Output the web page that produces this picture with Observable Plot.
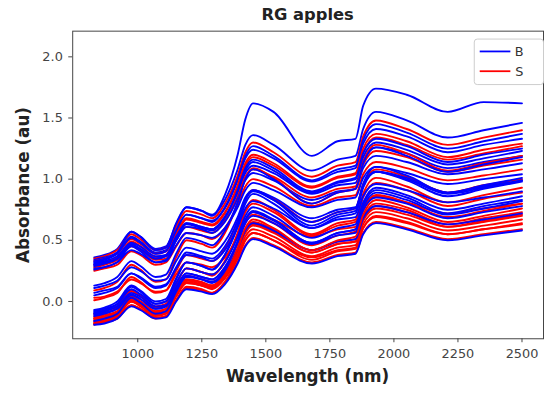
<!DOCTYPE html>
<html><head><meta charset="utf-8">
<script src="https://cdn.jsdelivr.net/npm/d3@7"></script>
<script src="https://cdn.jsdelivr.net/npm/@observablehq/plot@0.6"></script>
<style>
html,body{margin:0;padding:0;background:#fff;overflow:hidden;width:544px;height:395px;}
#chart{position:relative;width:544px;height:395px;overflow:hidden;}
</style></head><body><div id="chart"></div>
<script>
const title = "RG apples";
const xLabel = "Wavelength (nm)";
const yLabel = "Absorbance (au)";
const wavelengths = [830, 870, 920, 975, 1010, 1070, 1110, 1150, 1190, 1250, 1290, 1340, 1390, 1420, 1450, 1530, 1680, 1780, 1850, 1880, 1930, 2050, 2210, 2350, 2500];
const xTicks = [1000, 1250, 1500, 1750, 2000, 2250, 2500];
const yTicks = [0, 0.5, 1.0, 1.5, 2.0];
const classes = ["B", "S"];
const classColors = ["#0000ff", "#ff0000"];

const B01 = [0.36, 0.38, 0.43, 0.57, 0.53, 0.43, 0.45, 0.63, 0.77, 0.74, 0.71, 0.83, 1.08, 1.28, 1.36, 1.28, 1.07, 1.16, 1.19, 1.41, 1.55, 1.48, 1.34, 1.40, 1.46];
const S01 = [0.35, 0.37, 0.42, 0.55, 0.51, 0.42, 0.44, 0.61, 0.74, 0.71, 0.68, 0.80, 1.03, 1.22, 1.30, 1.22, 1.02, 1.11, 1.14, 1.35, 1.48, 1.41, 1.28, 1.34, 1.40];
const B02 = [0.34, 0.36, 0.40, 0.53, 0.49, 0.40, 0.42, 0.58, 0.71, 0.68, 0.66, 0.76, 0.99, 1.17, 1.24, 1.17, 0.98, 1.06, 1.09, 1.29, 1.41, 1.35, 1.22, 1.28, 1.33];
const S02 = [0.33, 0.35, 0.39, 0.51, 0.47, 0.39, 0.41, 0.56, 0.68, 0.65, 0.63, 0.73, 0.94, 1.11, 1.18, 1.11, 0.93, 1.01, 1.04, 1.22, 1.34, 1.28, 1.16, 1.21, 1.27];
const B03 = [0.32, 0.34, 0.39, 0.52, 0.48, 0.39, 0.41, 0.58, 0.71, 0.68, 0.65, 0.77, 1.00, 1.19, 1.27, 1.19, 0.99, 1.08, 1.11, 1.32, 1.45, 1.38, 1.25, 1.31, 1.37];
const B04 = [0.31, 0.33, 0.37, 0.48, 0.45, 0.37, 0.38, 0.53, 0.64, 0.61, 0.59, 0.69, 0.89, 1.05, 1.11, 1.05, 0.88, 0.95, 0.97, 1.15, 1.26, 1.21, 1.09, 1.14, 1.19];
const S03 = [0.30, 0.32, 0.36, 0.49, 0.45, 0.36, 0.38, 0.54, 0.67, 0.64, 0.62, 0.72, 0.95, 1.13, 1.20, 1.13, 0.94, 1.02, 1.05, 1.25, 1.37, 1.31, 1.18, 1.24, 1.29];
const B05 = [0.30, 0.32, 0.35, 0.46, 0.43, 0.35, 0.37, 0.50, 0.61, 0.59, 0.56, 0.65, 0.84, 0.99, 1.05, 0.99, 0.83, 0.90, 0.92, 1.09, 1.19, 1.14, 1.04, 1.08, 1.13];
const B06 = [0.29, 0.31, 0.35, 0.47, 0.43, 0.35, 0.37, 0.52, 0.64, 0.61, 0.59, 0.69, 0.90, 1.07, 1.14, 1.07, 0.89, 0.97, 1.00, 1.18, 1.30, 1.24, 1.12, 1.17, 1.23];
const S04 = [0.28, 0.30, 0.34, 0.45, 0.42, 0.34, 0.35, 0.50, 0.61, 0.58, 0.56, 0.66, 0.86, 1.02, 1.08, 1.02, 0.85, 0.92, 0.94, 1.12, 1.23, 1.18, 1.06, 1.11, 1.16];
const B07 = [0.27, 0.28, 0.32, 0.42, 0.39, 0.32, 0.33, 0.46, 0.56, 0.54, 0.52, 0.60, 0.77, 0.91, 0.97, 0.91, 0.77, 0.83, 0.85, 1.01, 1.10, 1.05, 0.96, 1.00, 1.04];
const B08 = [0.26, 0.28, 0.32, 0.45, 0.41, 0.32, 0.34, 0.50, 0.63, 0.60, 0.58, 0.68, 0.91, 1.09, 1.16, 1.09, 0.90, 0.98, 1.01, 1.21, 1.33, 1.27, 1.14, 1.20, 1.25];
const S05 = [0.25, 0.27, 0.30, 0.41, 0.38, 0.30, 0.32, 0.45, 0.56, 0.54, 0.51, 0.60, 0.79, 0.94, 1.00, 0.94, 0.78, 0.85, 0.87, 1.04, 1.14, 1.09, 0.99, 1.03, 1.08];
const B09 = [0.13, 0.15, 0.20, 0.33, 0.29, 0.20, 0.22, 0.39, 0.52, 0.49, 0.46, 0.58, 0.81, 1.00, 1.08, 1.00, 0.80, 0.89, 0.92, 1.13, 1.26, 1.19, 1.06, 1.12, 1.18];
const B10 = [0.11, 0.13, 0.17, 0.28, 0.25, 0.17, 0.18, 0.33, 0.44, 0.41, 0.39, 0.49, 0.69, 0.85, 0.91, 0.85, 0.68, 0.75, 0.77, 0.95, 1.06, 1.01, 0.89, 0.94, 0.99];
const S06 = [0.09, 0.11, 0.16, 0.30, 0.26, 0.16, 0.18, 0.36, 0.50, 0.47, 0.44, 0.56, 0.81, 1.01, 1.09, 1.01, 0.80, 0.89, 0.92, 1.14, 1.28, 1.21, 1.07, 1.13, 1.19];
const B11 = [0.07, 0.09, 0.12, 0.23, 0.20, 0.12, 0.14, 0.27, 0.38, 0.36, 0.33, 0.42, 0.61, 0.76, 0.82, 0.76, 0.60, 0.67, 0.69, 0.86, 0.96, 0.91, 0.81, 0.85, 0.90];
const B12 = [0.05, 0.07, 0.11, 0.23, 0.19, 0.11, 0.13, 0.28, 0.40, 0.37, 0.35, 0.45, 0.66, 0.83, 0.90, 0.83, 0.65, 0.73, 0.76, 0.94, 1.06, 1.00, 0.88, 0.93, 0.99];
const S07 = [0.03, 0.04, 0.08, 0.18, 0.15, 0.08, 0.09, 0.22, 0.32, 0.30, 0.28, 0.36, 0.53, 0.67, 0.73, 0.67, 0.53, 0.59, 0.61, 0.77, 0.86, 0.81, 0.72, 0.76, 0.80];
const S08 = [0.01, 0.03, 0.07, 0.20, 0.16, 0.07, 0.09, 0.25, 0.38, 0.35, 0.33, 0.43, 0.66, 0.84, 0.91, 0.84, 0.65, 0.73, 0.76, 0.96, 1.08, 1.02, 0.89, 0.95, 1.00];
const B13 = [-0.07, -0.05, 0.00, 0.13, 0.09, 0.00, 0.02, 0.19, 0.32, 0.29, 0.26, 0.38, 0.61, 0.80, 0.88, 0.80, 0.60, 0.69, 0.72, 0.93, 1.06, 0.99, 0.86, 0.92, 0.98];
const B14 = [-0.08, -0.06, -0.02, 0.10, 0.06, -0.02, 0.00, 0.15, 0.27, 0.24, 0.22, 0.32, 0.53, 0.70, 0.77, 0.70, 0.52, 0.60, 0.63, 0.81, 0.93, 0.87, 0.75, 0.80, 0.86];
const B15 = [-0.09, -0.07, -0.02, 0.12, 0.08, -0.02, 0.00, 0.18, 0.32, 0.29, 0.26, 0.38, 0.63, 0.83, 0.91, 0.83, 0.62, 0.71, 0.74, 0.96, 1.10, 1.03, 0.89, 0.95, 1.01];
const B16 = [-0.10, -0.08, -0.04, 0.07, 0.04, -0.04, -0.03, 0.12, 0.23, 0.20, 0.18, 0.28, 0.48, 0.64, 0.70, 0.64, 0.47, 0.54, 0.56, 0.74, 0.85, 0.80, 0.68, 0.73, 0.78];
const S09 = [-0.10, -0.08, -0.04, 0.09, 0.05, -0.04, -0.02, 0.14, 0.27, 0.24, 0.22, 0.32, 0.55, 0.73, 0.80, 0.73, 0.54, 0.62, 0.65, 0.85, 0.97, 0.91, 0.78, 0.84, 0.89];
const B17 = [-0.11, -0.09, -0.06, 0.05, 0.02, -0.06, -0.04, 0.09, 0.20, 0.18, 0.15, 0.24, 0.43, 0.58, 0.64, 0.58, 0.42, 0.49, 0.51, 0.68, 0.78, 0.73, 0.63, 0.67, 0.72];
const B18 = [-0.12, -0.10, -0.06, 0.06, 0.02, -0.06, -0.04, 0.11, 0.23, 0.20, 0.18, 0.28, 0.49, 0.66, 0.73, 0.66, 0.48, 0.56, 0.59, 0.77, 0.89, 0.83, 0.71, 0.76, 0.82];
const S10 = [-0.12, -0.10, -0.05, 0.08, 0.04, -0.05, -0.03, 0.14, 0.27, 0.24, 0.21, 0.33, 0.56, 0.75, 0.83, 0.75, 0.55, 0.64, 0.67, 0.88, 1.01, 0.94, 0.81, 0.87, 0.93];
const S11 = [-0.13, -0.11, -0.08, 0.03, 0.00, -0.08, -0.06, 0.07, 0.18, 0.16, 0.13, 0.22, 0.41, 0.56, 0.62, 0.56, 0.40, 0.47, 0.49, 0.66, 0.76, 0.71, 0.61, 0.65, 0.70];
const S12 = [-0.14, -0.12, -0.08, 0.04, 0.00, -0.08, -0.06, 0.09, 0.21, 0.18, 0.16, 0.26, 0.47, 0.64, 0.71, 0.64, 0.46, 0.54, 0.57, 0.75, 0.87, 0.81, 0.69, 0.74, 0.80];
const S13 = [-0.14, -0.13, -0.09, 0.01, -0.02, -0.09, -0.08, 0.05, 0.15, 0.13, 0.11, 0.19, 0.36, 0.50, 0.56, 0.50, 0.36, 0.42, 0.44, 0.60, 0.69, 0.64, 0.55, 0.59, 0.63];
const S14 = [-0.15, -0.13, -0.09, 0.02, -0.01, -0.09, -0.08, 0.07, 0.18, 0.15, 0.13, 0.23, 0.43, 0.59, 0.65, 0.59, 0.42, 0.49, 0.51, 0.69, 0.80, 0.75, 0.63, 0.68, 0.73];
const S15 = [-0.16, -0.14, -0.11, 0.00, -0.03, -0.11, -0.09, 0.04, 0.15, 0.13, 0.10, 0.19, 0.38, 0.53, 0.59, 0.53, 0.37, 0.44, 0.46, 0.63, 0.73, 0.68, 0.58, 0.62, 0.67];
const B19 = [-0.16, -0.14, -0.10, 0.03, -0.01, -0.10, -0.08, 0.08, 0.21, 0.18, 0.16, 0.26, 0.49, 0.67, 0.74, 0.67, 0.48, 0.56, 0.59, 0.79, 0.91, 0.85, 0.72, 0.78, 0.83];
const S16 = [-0.17, -0.15, -0.11, 0.00, -0.03, -0.11, -0.10, 0.05, 0.16, 0.13, 0.11, 0.21, 0.41, 0.57, 0.63, 0.57, 0.40, 0.47, 0.49, 0.67, 0.78, 0.73, 0.61, 0.66, 0.71];
const S17 = [-0.18, -0.17, -0.13, -0.03, -0.06, -0.13, -0.12, 0.01, 0.11, 0.09, 0.07, 0.15, 0.32, 0.46, 0.52, 0.46, 0.32, 0.38, 0.40, 0.56, 0.65, 0.60, 0.51, 0.55, 0.59];
const S18 = [-0.18, -0.16, -0.12, 0.00, -0.04, -0.12, -0.10, 0.05, 0.17, 0.14, 0.12, 0.22, 0.43, 0.60, 0.67, 0.60, 0.42, 0.50, 0.53, 0.71, 0.83, 0.77, 0.65, 0.70, 0.76];
const S19 = [-0.19, -0.17, -0.14, -0.03, -0.06, -0.14, -0.12, 0.01, 0.12, 0.10, 0.07, 0.16, 0.35, 0.50, 0.56, 0.50, 0.34, 0.41, 0.43, 0.60, 0.70, 0.65, 0.55, 0.59, 0.64];
const B20 = [-0.19, -0.18, -0.14, -0.04, -0.07, -0.14, -0.13, 0.00, 0.10, 0.08, 0.06, 0.14, 0.31, 0.45, 0.51, 0.45, 0.31, 0.37, 0.39, 0.55, 0.64, 0.59, 0.50, 0.54, 0.58];
const B21 = [0.33, 0.35, 0.40, 0.57, 0.53, 0.42, 0.44, 0.64, 0.77, 0.74, 0.70, 0.87, 1.20, 1.49, 1.62, 1.55, 1.19, 1.31, 1.33, 1.60, 1.74, 1.69, 1.55, 1.63, 1.62];

const blueSpectra = [B01, B02, B03, B04, B05, B06, B07, B08, B09, B10, B11, B12, B13, B14, B15, B16, B17, B18, B19, B20, B21];
const redSpectra = [S01, S02, S03, S04, S05, S06, S07, S08, S09, S10, S11, S12, S13, S14, S15, S16, S17, S18, S19];

// build a long table (interleaving the two classes in drawing order)
const rows = [];
let id = 0;
for (let i = 0; i < Math.max(blueSpectra.length, redSpectra.length); i++) {
  for (const [cls, set] of [["B", blueSpectra], ["S", redSpectra]]) {
    if (i < set.length) {
      set[i].forEach((a, j) => rows.push({w: wavelengths[j], a, id, cls}));
      id++;
    }
  }
}

const plot = Plot.plot({
  width: 550, height: 395,
  marginLeft: 73, marginRight: 1, marginTop: 31, marginBottom: 53,
  style: {fontFamily: "'DejaVu Sans', sans-serif", fontSize: "13px", color: "#444", background: "white"},
  x: {domain: [746, 2584], ticks: xTicks, tickFormat: d => String(d), tickSize: 4, tickPadding: 6, label: null},
  y: {domain: [-0.305, 2.21], ticks: yTicks, tickFormat: d3.format(".1f"), tickSize: 4, tickPadding: 6, label: null},
  color: {domain: classes, range: classColors},
  marks: [
    Plot.line(rows, {x: "w", y: "a", z: "id", stroke: "cls", strokeWidth: 1.9, curve: "monotone-x"}),
    Plot.frame({stroke: "#444"})
  ]
});
document.getElementById("chart").appendChild(plot);

const svg = d3.select(plot);
const bold = "'DejaVu Sans', sans-serif";
svg.append("text").attr("x", 311).attr("y", 20).attr("text-anchor", "middle")
  .attr("font-family", bold).attr("font-weight", "bold").attr("font-size", 16.5).attr("fill", "#222").text(title);
svg.append("text").attr("x", 311).attr("y", 386).attr("text-anchor", "middle")
  .attr("font-family", bold).attr("font-weight", "bold").attr("font-size", 17).attr("fill", "#222").text(xLabel);
svg.append("text").attr("transform", "translate(29,187) rotate(-90)").attr("text-anchor", "middle")
  .attr("font-family", bold).attr("font-weight", "bold").attr("font-size", 17).attr("fill", "#222").text(yLabel);

// legend
const lg = svg.append("g");
lg.append("rect").attr("x", 479.5).attr("y", 39.5).attr("width", 70).attr("height", 46).attr("rx", 3)
  .attr("fill", "white").attr("fill-opacity", 0.85).attr("stroke", "#ccc");
classes.forEach((c, i) => {
  const yy = 52 + i * 20;
  lg.append("line").attr("x1", 485).attr("x2", 516).attr("y1", yy).attr("y2", yy)
    .attr("stroke", classColors[i]).attr("stroke-width", 1.8);
  lg.append("text").attr("x", 525).attr("y", yy).attr("dy", "0.36em")
    .attr("font-family", bold).attr("font-size", 13).attr("fill", "#333").text(c);
});
</script></body></html>
